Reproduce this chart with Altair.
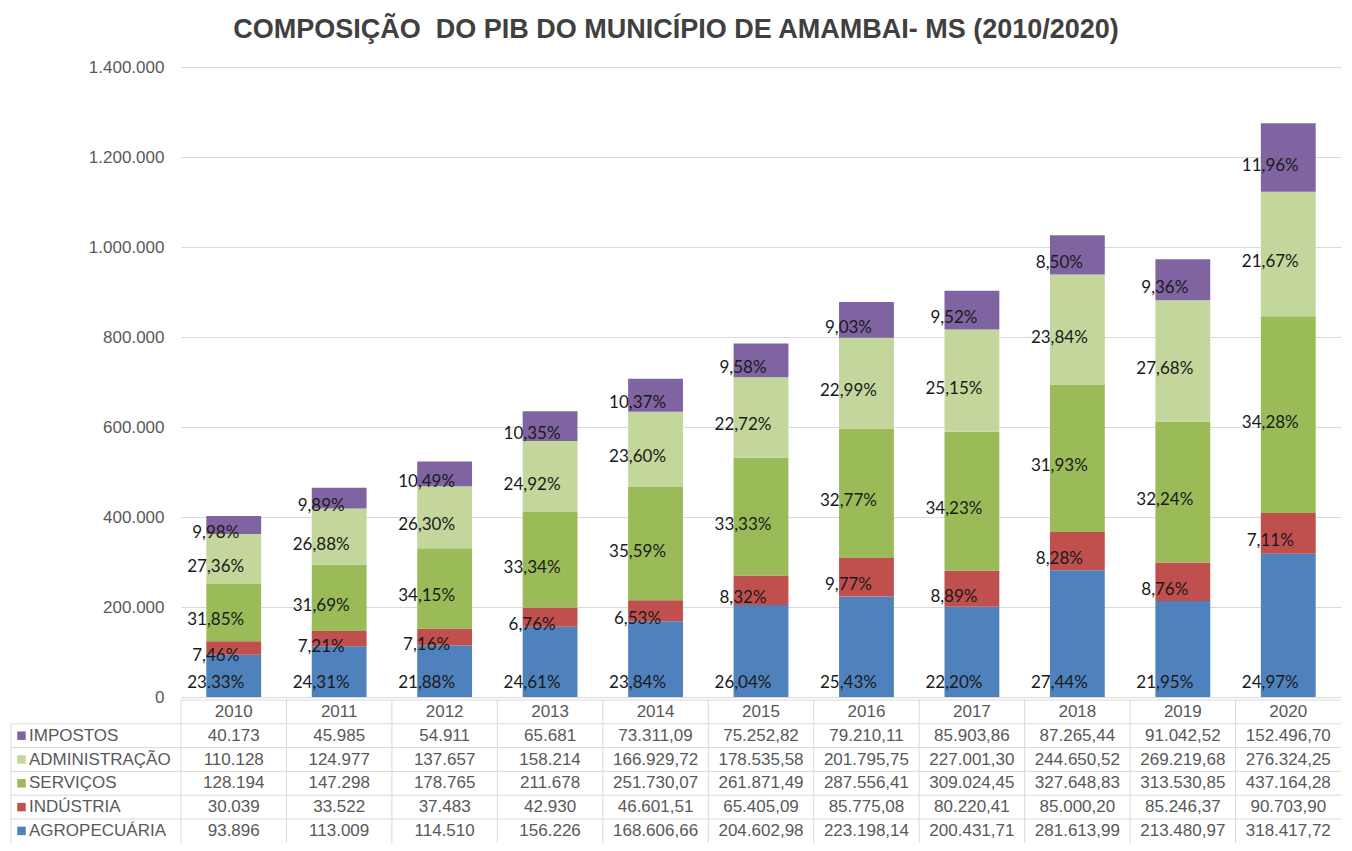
import altair as alt
import pandas as pd

# ---------------- data ----------------
years = ["2010", "2011", "2012", "2013", "2014", "2015", "2016", "2017", "2018", "2019", "2020"]
series = ["IMPOSTOS", "ADMINISTRAÇÃO", "SERVIÇOS", "INDÚSTRIA", "AGROPECUÁRIA"]  # table order
stack_order = ["AGROPECUÁRIA", "INDÚSTRIA", "SERVIÇOS", "ADMINISTRAÇÃO", "IMPOSTOS"]  # bottom -> top
colors = {"AGROPECUÁRIA": "#4F81BD", "INDÚSTRIA": "#C0504D", "SERVIÇOS": "#9BBB59",
          "ADMINISTRAÇÃO": "#C3D69B", "IMPOSTOS": "#8064A2"}

impostos_txt = ["40.173", "45.985", "54.911", "65.681", "73.311,09", "75.252,82", "79.210,11",
                "85.903,86", "87.265,44", "91.042,52", "152.496,70"]
administracao_txt = ["110.128", "124.977", "137.657", "158.214", "166.929,72", "178.535,58", "201.795,75",
                     "227.001,30", "244.650,52", "269.219,68", "276.324,25"]
servicos_txt = ["128.194", "147.298", "178.765", "211.678", "251.730,07", "261.871,49", "287.556,41",
                "309.024,45", "327.648,83", "313.530,85", "437.164,28"]
industria_txt = ["30.039", "33.522", "37.483", "42.930", "46.601,51", "65.405,09", "85.775,08",
                 "80.220,41", "85.000,20", "85.246,37", "90.703,90"]
agropecuaria_txt = ["93.896", "113.009", "114.510", "156.226", "168.606,66", "204.602,98", "223.198,14",
                    "200.431,71", "281.613,99", "213.480,97", "318.417,72"]

impostos_pct = ["9,98%", "9,89%", "10,49%", "10,35%", "10,37%", "9,58%", "9,03%", "9,52%", "8,50%", "9,36%", "11,96%"]
administracao_pct = ["27,36%", "26,88%", "26,30%", "24,92%", "23,60%", "22,72%", "22,99%", "25,15%", "23,84%", "27,68%", "21,67%"]
servicos_pct = ["31,85%", "31,69%", "34,15%", "33,34%", "35,59%", "33,33%", "32,77%", "34,23%", "31,93%", "32,24%", "34,28%"]
industria_pct = ["7,46%", "7,21%", "7,16%", "6,76%", "6,53%", "8,32%", "9,77%", "8,89%", "8,28%", "8,76%", "7,11%"]
agropecuaria_pct = ["23.33%", "24,31%", "21,88%", "24,61%", "23,84%", "26,04%", "25,43%", "22,20%", "27,44%", "21,95%", "24,97%"]

y_ticks = [0, 200000, 400000, 600000, 800000, 1000000, 1200000, 1400000]

texts = {"IMPOSTOS": impostos_txt, "ADMINISTRAÇÃO": administracao_txt, "SERVIÇOS": servicos_txt,
         "INDÚSTRIA": industria_txt, "AGROPECUÁRIA": agropecuaria_txt}
pcts = {"IMPOSTOS": impostos_pct, "ADMINISTRAÇÃO": administracao_pct, "SERVIÇOS": servicos_pct,
        "INDÚSTRIA": industria_pct, "AGROPECUÁRIA": agropecuaria_pct}


def to_num(s):
    return float(s.replace(".", "").replace(",", "."))


# ---------------- derived tables ----------------
bar_rows = []
for i, yr in enumerate(years):
    cum = 0.0
    for k, s in enumerate(stack_order):
        v = to_num(texts[s][i])
        bar_rows.append({"year": yr, "series": s, "value": v, "start": cum, "end": cum + v,
                         "mid": cum + v / 2, "base": 0.0, "pct": pcts[s][i], "order": k})
        cum += v
bars_df = pd.DataFrame(bar_rows)

table_rows = []
for s in series:
    for i, yr in enumerate(years):
        table_rows.append({"row": s, "year": yr, "txt": texts[s][i]})
table_df = pd.DataFrame(table_rows)
header_df = pd.DataFrame({"row": ["ANO"] * len(years), "year": years, "txt": years})
legend_df = pd.DataFrame({"row": series, "series": series})
rows = ["ANO"] + series

# ---------------- layout ----------------
W, H = 1160, 630
TABLE_TOP = 633
ROW_H = 23.8
TABLE_BOTTOM = TABLE_TOP + ROW_H * len(rows)
LEFT_COL = -170
GRID = "#D9D9D9"
AXIS_TXT = "#595959"

x_enc = alt.X("year:N", scale=alt.Scale(domain=years, paddingInner=0, paddingOuter=0), axis=None)
color_enc = alt.Color("series:N", scale=alt.Scale(domain=stack_order, range=[colors[s] for s in stack_order]),
                      legend=None)
y_scale = alt.Scale(domain=[0, 1400000], nice=False, zero=True)
y_axis = alt.Axis(values=y_ticks, title=None, grid=True, gridColor=GRID, gridWidth=1, domain=False,
                  ticks=False, tickSize=0, labelPadding=17, labelFont="Liberation Sans", labelFontSize=17,
                  labelColor=AXIS_TXT,
                  labelExpr="replace(replace(format(datum.value, ','), ',', '.'), ',', '.')")

bars = alt.Chart(bars_df).mark_bar(width=alt.RelativeBandSize(0.52)).encode(
    x=x_enc,
    y=alt.Y("start:Q", scale=y_scale, axis=y_axis),
    y2="end:Q",
    color=color_enc,
    order=alt.Order("order:Q"),
)
labels_mid = alt.Chart(bars_df[bars_df["series"] != "AGROPECUÁRIA"]).mark_text(
    dx=-18, dy=8, font="Lato", fontSize=17, color="#1A1A1A"
).encode(x=x_enc, y=alt.Y("mid:Q", scale=y_scale, axis=y_axis), text="pct:N")
labels_base = alt.Chart(bars_df[bars_df["series"] == "AGROPECUÁRIA"]).mark_text(
    dx=-18, dy=-14, font="Lato", fontSize=17, color="#1A1A1A"
).encode(x=x_enc, y=alt.Y("base:Q", scale=y_scale, axis=y_axis), text="pct:N")

bar_layer = alt.layer(bars, labels_mid, labels_base)

# ---------------- table ----------------
ytab = alt.Scale(type="band", domain=rows, range=[TABLE_TOP, TABLE_BOTTOM], paddingInner=0, paddingOuter=0)

header_line = alt.Chart(header_df.head(1)).mark_rule(color=GRID, strokeWidth=1).encode(
    y=alt.Y("row:N", scale=ytab, axis=None, bandPosition=0),
    x=alt.value(0), x2=alt.value(W))
row_lines = alt.Chart(legend_df).mark_rule(color=GRID, strokeWidth=1).encode(
    y=alt.Y("row:N", scale=ytab, axis=None, bandPosition=0),
    x=alt.value(LEFT_COL), x2=alt.value(W))
v_lines = alt.Chart(header_df).mark_rule(color=GRID, strokeWidth=1).encode(
    x=alt.X("year:N", scale=alt.Scale(domain=years, paddingInner=0, paddingOuter=0), axis=None, bandPosition=0),
    y=alt.value(TABLE_TOP), y2=alt.value(TABLE_BOTTOM))
left_line = alt.Chart(header_df.head(1)).mark_rule(color=GRID, strokeWidth=1).encode(
    x=alt.value(LEFT_COL), y=alt.value(TABLE_TOP + ROW_H), y2=alt.value(TABLE_BOTTOM))

header_text = alt.Chart(header_df).mark_text(font="Liberation Sans", fontSize=17, color=AXIS_TXT).encode(
    x=x_enc, y=alt.Y("row:N", scale=ytab, axis=None), text="txt:N")
values_text = alt.Chart(table_df).mark_text(font="Liberation Sans", fontSize=17, color=AXIS_TXT).encode(
    x=x_enc, y=alt.Y("row:N", scale=ytab, axis=None), text="txt:N")
squares = alt.Chart(legend_df).mark_square(size=72, opacity=1).encode(
    x=alt.value(LEFT_COL + 10.5), y=alt.Y("row:N", scale=ytab, axis=None), color=color_enc)
left_labels = alt.Chart(legend_df).mark_text(font="Liberation Sans", fontSize=17, color=AXIS_TXT,
                                             align="left").encode(
    x=alt.value(LEFT_COL + 18), y=alt.Y("row:N", scale=ytab, axis=None), text="row:N")

table_layer = alt.layer(header_line, row_lines, v_lines, left_line, header_text, values_text, squares, left_labels)

chart = alt.layer(bar_layer, table_layer).resolve_scale(y="independent").properties(
    width=W, height=H,
    padding={"left": 2, "top": 8, "right": 0, "bottom": 0},
    title=alt.TitleParams("COMPOSIÇÃO\u00a0 DO PIB DO MUNICÍPIO DE AMAMBAI- MS (2010/2020)",
                          font="Liberation Sans", fontSize=27, fontWeight="bold", color="#404040",
                          anchor="middle", offset=14, dx=-85),
).configure_view(strokeWidth=0)

chart.save("out.html", embed_options={"renderer": "svg", "actions": False})
